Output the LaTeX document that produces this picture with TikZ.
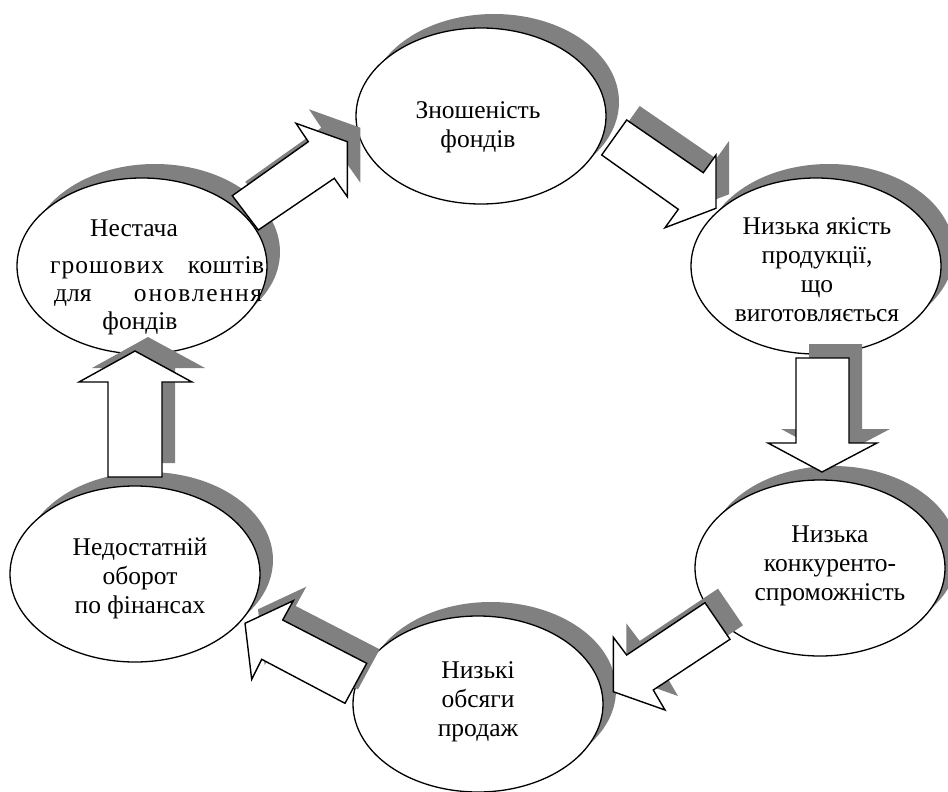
\documentclass[tikz,border=0pt]{standalone}
\usepackage{fontspec}
\setmainfont{Liberation Serif}
\usetikzlibrary{shapes.geometric,shadows}
\definecolor{shadowgrey}{RGB}{128,128,128}
\tikzset{
  greyshadow/.style={drop shadow={shadow xshift=13pt, shadow yshift=14pt, opacity=1, fill=shadowgrey}},
  stage/.style={ellipse, draw=black, line width=1.3pt, fill=white, inner sep=0pt,
                minimum width=250pt, minimum height=176pt, greyshadow},
  caption/.style={align=center, inner sep=0pt, font=\fontsize{25.5}{29}\selectfont},
  textline/.style={inner sep=0pt, font=\fontsize{25.5}{29}\selectfont},
  blockarrow/.style={draw=black, line width=1.4pt, fill=white, line join=miter, greyshadow},
}
% letter-spaced words
\newcommand{\spaced}[2]{{\addfontfeatures{LetterSpace=#1}#2}}
\begin{document}
\begin{tikzpicture}[x=1pt, y=-1pt]
  \useasboundingbox (0,0) rectangle (948,792);

  % the six stages of the cycle
  \node[stage] (wear)   at (481,116) {};
  \node[stage] (qual)   at (816,266) {};
  \node[stage] (comp)   at (820,568) {};
  \node[stage] (sales)  at (478,704) {};
  \node[stage] (turn)   at (135,574) {};
  \node[stage] (cash)   at (142,266) {};

  \node[caption] (wearT)  at (478,127) {Зношеність\\фондів};
  \node[caption] (qualT)  at (817,270) {Низька якість\\продукції,\\що\\виготовляється};
  \node[caption] (compT)  at (830,566) {Низька\\конкуренто-\\спроможність};
  \node[caption] (salesT) at (478,702) {Низькі\\обсяги\\продаж};
  \node[caption] (turnT)  at (140,578) {Недостатній\\оборот\\по фінансах};

  % justified caption, set line by line
  \node[textline, anchor=base]      (cashT1) at (134,236) {Нестача};
  \node[textline, anchor=base west] (cashT2) at (50,273)
    {\makebox[214pt][s]{\spaced{4}{грошових} \spaced{2}{коштів}}};
  \node[textline, anchor=base west] (cashT3) at (54,301)
    {\makebox[208pt][s]{для \spaced{7}{оновлення}}};
  \node[textline, anchor=base]      (cashT4) at (140,329) {фондів};

  % block arrows between the stages
  \draw[blockarrow] (232.3,195.7) -- (308.3,141.7) -- (296,123.3) -- (347.3,141.7)
        -- (347.3,196.7) -- (334.3,178.3) -- (258.3,230) -- cycle;
  \draw[blockarrow] (626.7,120) -- (703.3,172.7) -- (716,155) -- (716,208.3)
        -- (665,227.7) -- (678.3,209.3) -- (601.7,155) -- cycle;
  \draw[blockarrow] (796,358) -- (849,358) -- (849,443) -- (877,443)
        -- (822,472) -- (768,443) -- (796,443) -- cycle;
  \draw[blockarrow] (705,602.7) -- (730,639.3) -- (653.3,690) -- (665,710)
        -- (613.3,691.7) -- (613.3,637.3) -- (626.7,655) -- cycle;
  \draw[blockarrow] (366.7,663.3) -- (345,703.3) -- (261.7,659.3) -- (251.7,679.3)
        -- (245,623.3) -- (293.3,600.7) -- (282.7,620) -- cycle;
  \draw[blockarrow] (108,477) -- (108,382) -- (79,382) -- (135,351)
        -- (192,382) -- (162,382) -- (162,477) -- cycle;
\end{tikzpicture}
\end{document}
